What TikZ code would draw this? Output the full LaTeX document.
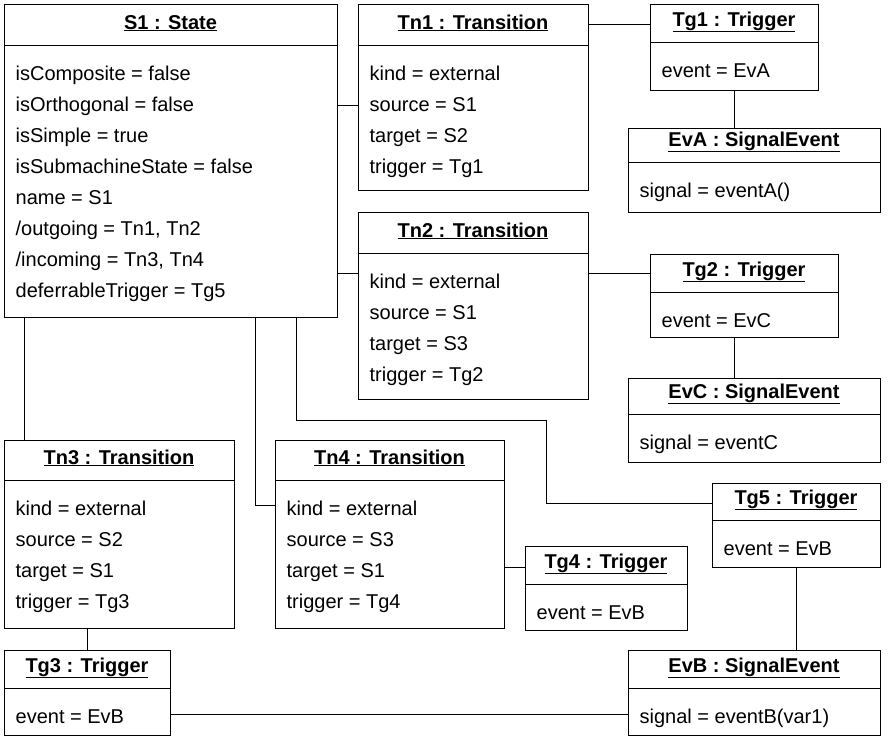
\documentclass[tikz,border=0pt]{standalone}
\usepackage{fontspec}
\setmainfont{Liberation Sans}
\usetikzlibrary{calc}
\tikzset{
	obj/.style={draw, thick, anchor=north west, inner sep=0pt},
	attr/.style={anchor=base west, inner sep=0pt},
	ttl/.style={anchor=base, inner sep=0pt, font=\fontsize{20}{24}\selectfont\bfseries},
	link/.style={draw, thick},
}
% name, x, y, width, height, separator y, title, attributes
\newcommand{\umlobj}[8]{
	\node[obj, minimum width=#4pt, minimum height=#5pt] (#1) at (#2,#3) {};
	\draw[thick] (#1.west |- 0,#6) -- (#1.east |- 0,#6);
	\node[ttl] at (#2+#4/2,#6-16) {\underline{#7}};
	\foreach \t [count=\i] in {#8}
		\node[attr] at (#2+11,#6+35+31*\i-31) {\t};
}
\begin{document}
\begin{tikzpicture}[x=1pt, y=-1pt, font=\fontsize{20}{24}\selectfont, line width=1.3pt]
	\useasboundingbox (0,0) rectangle (888,742);
	\umlobj{S1}{4}{4}{333}{313}{45}{S1 : State}{isComposite = false, isOrthogonal = false, isSimple = true, isSubmachineState = false, name = S1, {/outgoing = Tn1, Tn2}, {/incoming = Tn3, Tn4}, deferrableTrigger = Tg5}
	\umlobj{Tn1}{358}{4}{230}{186}{45}{Tn1 : Transition}{kind = external, source = S1, target = S2, trigger = Tg1}
	\umlobj{Tg1}{650}{4}{168}{86}{42}{Tg1 : Trigger}{event = EvA}
	\umlobj{EvA}{628}{128}{252}{84}{162}{EvA : SignalEvent}{signal = eventA()}
	\umlobj{Tn2}{358}{212}{230}{187}{253}{Tn2 : Transition}{kind = external, source = S1, target = S3, trigger = Tg2}
	\umlobj{Tg2}{650}{254}{188}{83}{292}{Tg2 : Trigger}{event = EvC}
	\umlobj{EvC}{628}{378}{252}{84}{414}{EvC : SignalEvent}{signal = eventC}
	\umlobj{Tn3}{4}{440}{230}{188}{480}{Tn3 : Transition}{kind = external, source = S2, target = S1, trigger = Tg3}
	\umlobj{Tn4}{275}{440}{229}{188}{480}{Tn4 : Transition}{kind = external, source = S3, target = S1, trigger = Tg4}
	\umlobj{Tg5}{712}{483}{168}{84}{520}{Tg5 : Trigger}{event = EvB}
	\umlobj{Tg4}{525}{546}{162}{84}{584}{Tg4 : Trigger}{event = EvB}
	\umlobj{Tg3}{4}{650}{166}{85}{688}{Tg3 : Trigger}{event = EvB}
	\umlobj{EvB}{628}{650}{252}{85}{688}{EvB : SignalEvent}{signal = eventB(var1)}
	% links
	\path[link] (S1.east |- 0,105) -- (Tn1.west |- 0,105);
	\path[link] (S1.east |- 0,273) -- (Tn2.west |- 0,273);
	\path[link] (Tn1.east |- 0,24) -- (Tg1.west |- 0,24);
	\path[link] (Tg1.south -| 734,0) -- (EvA.north -| 734,0);
	\path[link] (Tn2.east |- 0,273) -- (Tg2.west |- 0,273);
	\path[link] (Tg2.south -| 734,0) -- (EvC.north -| 734,0);
	\path[link] (S1.south -| 24,0) -- (Tn3.north -| 24,0);
	\path[link] (S1.south -| 255,0) |- (Tn4.west |- 0,505);
	\path[link] (S1.south -| 296,0) -- (296,420) -- (546,420) |- (Tg5.west |- 0,503);
	\path[link] (Tn3.south -| 87,0) -- (Tg3.north -| 87,0);
	\path[link] (Tn4.east |- 0,567) -- (Tg4.west |- 0,567);
	\path[link] (Tg5.south -| 796,0) -- (EvB.north -| 796,0);
	\path[link] (Tg3.east |- 0,714) -- (EvB.west |- 0,714);
\end{tikzpicture}
\end{document}
